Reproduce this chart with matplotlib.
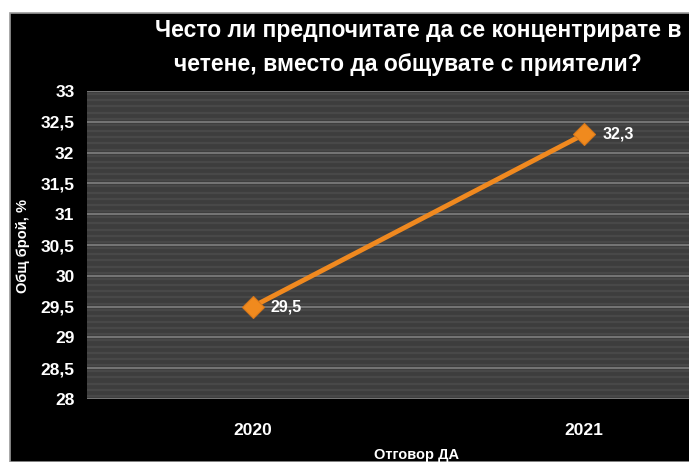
import numpy as np
import matplotlib
matplotlib.use("Agg")
import matplotlib.pyplot as plt
from matplotlib.patches import Rectangle

# data
years = ["2020", "2021"]
values = [29.5, 32.3]
value_labels = ["29,5", "32,3"]
yticks = [28, 28.5, 29, 29.5, 30, 30.5, 31, 31.5, 32, 32.5, 33]

title = "Често ли предпочитате да се концентрирате в\nчетене, вместо да общувате с приятели?"
ylabel = "Общ брой, %"
xlabel = "Отговор ДА"

normal = ["Liberation Sans", "DejaVu Sans"]

W, H = 689, 462
fig = plt.figure(figsize=(W / 100, H / 100), dpi=100, facecolor="white")

# black chart background, white margin top/left
fig.patches.append(Rectangle((10 / W, 0), 1, 1 - 13 / H, transform=fig.transFigure,
                             facecolor="black", edgecolor="#9a9a9a", linewidth=1.2, zorder=-5))

ax = fig.add_axes([87 / W, (H - 399) / H, (750 - 87) / W, (399 - 91) / H])
ax.set_zorder(2)
ax.set_facecolor("#3d3d3d")

x = np.arange(len(years))
ax.set_xlim(-0.5, len(years) - 0.5)
ax.set_ylim(28, 33)

# striped background
for yy in np.arange(28, 33, 0.1):
    ax.axhline(yy + 0.05, color="#484848", linewidth=1.6, zorder=0.5)
for yy in yticks:
    ax.axhline(yy, color="#808080", linewidth=1.2, zorder=0.6)

ax.plot(x, values, color="#f0891f", linewidth=3.5, marker="D", markersize=11,
        markerfacecolor="#f08a1e", markeredgecolor="#d9781a", markeredgewidth=0.8, zorder=3)

for xi, v, lab in zip(x, values, value_labels):
    ax.annotate(lab, (xi, v), xytext=(13, 0), textcoords="offset points",
                ha="left", va="center", color="white", fontsize=11.5,
                fontweight="bold", family=normal)

ax.set_xticks(x)
ax.set_xticklabels(years)
ax.set_yticks(yticks)
ax.set_yticklabels([str(t).replace(".", ",").replace(",0", "") for t in yticks])
ax.tick_params(length=0, colors="white", labelsize=12.5)
ax.tick_params(axis="x", pad=17)
ax.tick_params(axis="y", pad=9)
for lab in ax.get_xticklabels() + ax.get_yticklabels():
    lab.set_fontweight("bold")
    lab.set_family(normal)
for s in ax.spines.values():
    s.set_visible(False)

lines = title.split("\n")
fig.text(418 / W, 1 - 31 / H, lines[0], ha="center", va="center",
         color="white", fontsize=16.5, fontweight="bold", family=normal)
fig.text(408 / W, 1 - 64 / H, lines[1], ha="center", va="center",
         color="white", fontsize=16.5, fontweight="bold", family=normal)

fig.text(23 / W, 1 - 246 / H, ylabel, rotation=90, ha="center", va="center",
         color="white", fontsize=10.5, fontweight="bold", family=normal)
fig.text(417 / W, 1 - 455 / H, xlabel, ha="center", va="center",
         color="white", fontsize=10.5, fontweight="bold", family=normal)

fig.savefig("out.png", dpi=100, facecolor="white")
